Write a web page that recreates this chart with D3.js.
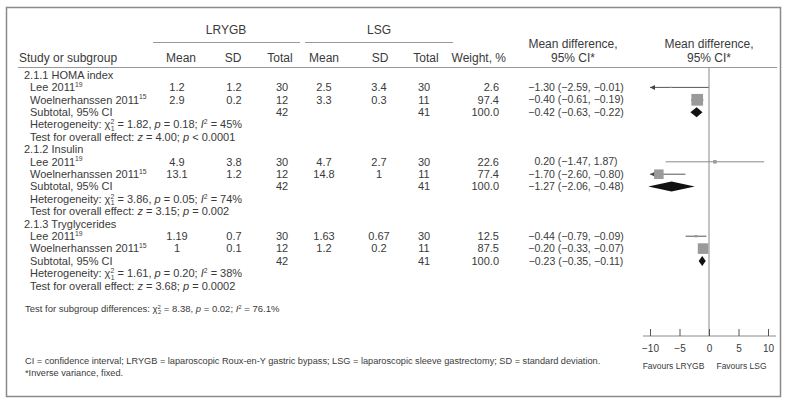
<!DOCTYPE html>
<html><head><meta charset="utf-8">
<script src="https://cdn.jsdelivr.net/npm/d3@7"></script>
<style>
body{margin:0;background:#fff}
svg{display:block}
text{font-family:"Liberation Sans",Arial,sans-serif;fill:#3a3a3a}
</style>
</head><body><svg id="c" width="791" height="407"></svg>
<script>
// ---------- data ----------
const groupLabels = ["2.1.1 HOMA index", "2.1.2 Insulin", "2.1.3 Tryglycerides"];
const studyNames = ["Lee 2011", "Woelnerhanssen 2011"];
const studyRefs = ["19", "15"];
const lrygbMean = [[1.2, 2.9], [4.9, 13.1], [1.19, 1]];
const lrygbSD   = [[1.2, 0.2], [3.8, 1.2], [0.7, 0.1]];
const lrygbN    = [[30, 12], [30, 12], [30, 12]];
const lsgMean   = [[2.5, 3.3], [4.7, 14.8], [1.63, 1.2]];
const lsgSD     = [[3.4, 0.3], [2.7, 1], [0.67, 0.2]];
const lsgN      = [[30, 11], [30, 11], [30, 11]];
const weights   = [[2.6, 97.4], [22.6, 77.4], [12.5, 87.5]];
const md        = [[-1.30, -0.40], [0.20, -1.70], [-0.44, -0.20]];
const ciLo      = [[-2.59, -0.61], [-1.47, -2.60], [-0.79, -0.33]];
const ciHi      = [[-0.01, -0.19], [1.87, -0.80], [-0.09, -0.07]];
const subN1 = [42, 42, 42];
const subN2 = [41, 41, 41];
const subMd = [-0.42, -1.27, -0.23];
const subLo = [-0.63, -2.06, -0.35];
const subHi = [-0.22, -0.48, -0.11];
const hetChi = ["1.82", "3.86", "1.61"];
const hetP   = ["0.18", "0.05", "0.20"];
const hetI2  = ["45", "74", "38"];
const overallZ = ["4.00", "3.15", "3.68"];
const overallP = ["< 0.0001", "= 0.002", "= 0.0002"];
const subgroupDiff = {chi: "8.38", p: "0.02", i2: "76.1"};
const tickValues = [-2, -1, 0, 1, 2];
const tickLabels = ["\u221210", "\u22125", "0", "5", "10"];
const favourLabels = ["Favours LRYGB", "Favours LSG"];

// ---------- layout ----------
const svg = d3.select("#c");
const ink = "#3a3a3a";
svg.append("rect").attr("x", 6.5).attr("y", 7.5).attr("width", 774).attr("height", 389)
  .attr("fill", "none").attr("stroke", "#8a8a8a").attr("stroke-width", 1.5);

function rich(x, y, segs, size, anchor) {
  const t = svg.append("text").attr("x", x).attr("y", y + size * 0.35)
    .attr("font-size", size).attr("text-anchor", anchor || "start");
  let shift = 0;
  segs.forEach(s => {
    const [str, kind, dx] = typeof s === "string" ? [s, "n"] : s;
    const sp = t.append("tspan").text(str);
    let target = 0;
    if (kind === "sup") { target = -size * 0.38; sp.attr("font-size", size * 0.62); }
    else if (kind === "sub") { target = size * 0.22; sp.attr("font-size", size * 0.62); }
    if (kind === "i") sp.attr("font-style", "italic");
    sp.attr("dy", target - shift); shift = target;
    if (dx) sp.attr("dx", dx);
  });
  return t;
}
const txt = (x, y, s, size, anchor) => rich(x, y, [s], size, anchor);

const col = {name: 30, grp: 24, m1: 177, sd1: 234, n1: 282, m2: 324, sd2: 379, n2: 424, w: 499, ci: 576};
const hdrSize = 12, bodySize = 11, ciSize = 10.5;

// header
txt(226, 30, "LRYGB", hdrSize, "middle");
txt(379, 30, "LSG", hdrSize, "middle");
svg.append("line").attr("x1", 153).attr("x2", 300).attr("y1", 42.5).attr("y2", 42.5).attr("stroke", "#999");
svg.append("line").attr("x1", 305).attr("x2", 453).attr("y1", 42.5).attr("y2", 42.5).attr("stroke", "#999");
const hy = 58;
txt(19, hy, "Study or subgroup", hdrSize);
[["Mean", 181], ["SD", 233], ["Total", 280], ["Mean", 324], ["SD", 380], ["Total", 426]].forEach(d => txt(d[1], hy, d[0], hdrSize, "middle"));
txt(506, hy, "Weight, %", hdrSize, "end");
txt(573, 44, "Mean difference,", hdrSize, "middle");
txt(573, 58, "95% CI*", hdrSize, "middle");
txt(709, 44, "Mean difference,", hdrSize, "middle");
txt(709, 58, "95% CI*", hdrSize, "middle");
svg.append("line").attr("x1", 18).attr("x2", 777).attr("y1", 67.5).attr("y2", 67.5).attr("stroke", "#999");

// forest scale
const x = d3.scaleLinear().domain([-2, 2]).range([650, 768]);
const axisY = 336;
const rowY = i => 75 + i * 12.4;
const sq = d3.scaleLinear().domain([0, 100]).range([1, 12]);
const fmt = v => (v < 0 ? "\u2212" : "") + Math.abs(v).toFixed(2);
const ciText = (m, l, h) => `${fmt(m)} (${fmt(l)}, ${fmt(h)})`;

// zero line
svg.append("line").attr("x1", x(0)).attr("x2", x(0)).attr("y1", 67.5).attr("y2", axisY)
  .attr("stroke", "#8a8a8a");

const forest = svg.append("g");
groupLabels.forEach((gl, g) => {
  const base = g * 6;
  txt(col.grp, rowY(base), gl, bodySize);
  studyNames.forEach((nm, s) => {
    const y = rowY(base + 1 + s);
    rich(col.name, y, [nm, [studyRefs[s], "sup"]], bodySize);
    txt(col.m1, y, String(lrygbMean[g][s]), bodySize, "middle");
    txt(col.sd1, y, String(lrygbSD[g][s]), bodySize, "middle");
    txt(col.n1, y, String(lrygbN[g][s]), bodySize, "middle");
    txt(col.m2, y, String(lsgMean[g][s]), bodySize, "middle");
    txt(col.sd2, y, String(lsgSD[g][s]), bodySize, "middle");
    txt(col.n2, y, String(lsgN[g][s]), bodySize, "middle");
    txt(col.w, y, weights[g][s].toFixed(1), bodySize, "end");
    txt(col.ci, y, ciText(md[g][s], ciLo[g][s], ciHi[g][s]), ciSize, "middle");
    // CI line
    const [d0, d1] = x.domain();
    const lo = Math.max(ciLo[g][s], d0), hi = Math.min(ciHi[g][s], d1);
    const lineCol = weights[g][s] < 30 && md[g][s] > 0 ? "#8a8a8a" : "#555";
    forest.append("line").attr("x1", x(lo)).attr("x2", x(hi)).attr("y1", y).attr("y2", y)
      .attr("stroke", lineCol).attr("stroke-width", 1);
    if (ciLo[g][s] < d0) {
      const ax = x(d0);
      forest.append("path").attr("d", `M${ax},${y}l5,-2.5v5z`).attr("fill", "#444");
    }
    const side = sq(weights[g][s]);
    forest.append("rect").attr("x", x(md[g][s]) - side / 2).attr("y", y - side / 2)
      .attr("width", side).attr("height", side).attr("fill", "#9a9a9a");
  });
  const ys = rowY(base + 3);
  txt(col.name, ys, "Subtotal, 95% CI", bodySize);
  txt(col.n1, ys, String(subN1[g]), bodySize, "middle");
  txt(col.n2, ys, String(subN2[g]), bodySize, "middle");
  txt(col.w, ys, "100.0", bodySize, "end");
  txt(col.ci, ys, ciText(subMd[g], subLo[g], subHi[g]), ciSize, "middle");
  forest.append("path")
    .attr("d", `M${x(subLo[g])},${ys}L${x(subMd[g])},${ys - 5}L${x(subHi[g])},${ys}L${x(subMd[g])},${ys + 5}Z`)
    .attr("fill", "#111");
  rich(col.name, rowY(base + 4), ["Heterogeneity:  \u03c7", ["2", "sup"], ["1", "sub", -3.5], ` = ${hetChi[g]}, `, ["p", "i"], ` = ${hetP[g]}; `, ["I", "i"], ["2", "sup"], ` = ${hetI2[g]}%`], bodySize);
  rich(col.name, rowY(base + 5), ["Test for overall effect: ", ["z", "i"], ` = ${overallZ[g]}; `, ["p", "i"], ` ${overallP[g]}`], bodySize);
});

// subgroup differences
rich(25, 309, ["Test for subgroup differences:  \u03c7", ["2", "sup"], ["2", "sub", -3], ` = ${subgroupDiff.chi}, `, ["p", "i"], ` = ${subgroupDiff.p}; `, ["I", "i"], ["2", "sup"], ` = ${subgroupDiff.i2}%`], 9.5);

// axis
svg.append("line").attr("x1", x(-2) - 7).attr("x2", x(2) + 8).attr("y1", axisY).attr("y2", axisY).attr("stroke", "#8a8a8a");
const axis = d3.axisBottom(x).tickValues(tickValues).tickFormat((d, i) => tickLabels[i])
  .tickSizeInner(-7).tickSizeOuter(0).tickPadding(9);
const ag = svg.append("g").attr("transform", `translate(0,${axisY})`).call(axis);
ag.select(".domain").remove();
ag.selectAll(".tick line").attr("stroke", "#555");
ag.selectAll(".tick text").attr("font-size", 10).attr("font-family", null).attr("fill", ink);
txt(x(-1) - 6, 366, favourLabels[0], 8.5, "middle");
txt(x(1) + 3, 366, favourLabels[1], 8.5, "middle");

// footnotes
txt(25, 361, "CI = confidence interval; LRYGB = laparoscopic Roux-en-Y gastric bypass; LSG = laparoscopic sleeve gastrectomy; SD = standard deviation.", 9.2);
txt(25, 373, "*Inverse variance, fixed.", 9.2);
</script>
</body></html>
